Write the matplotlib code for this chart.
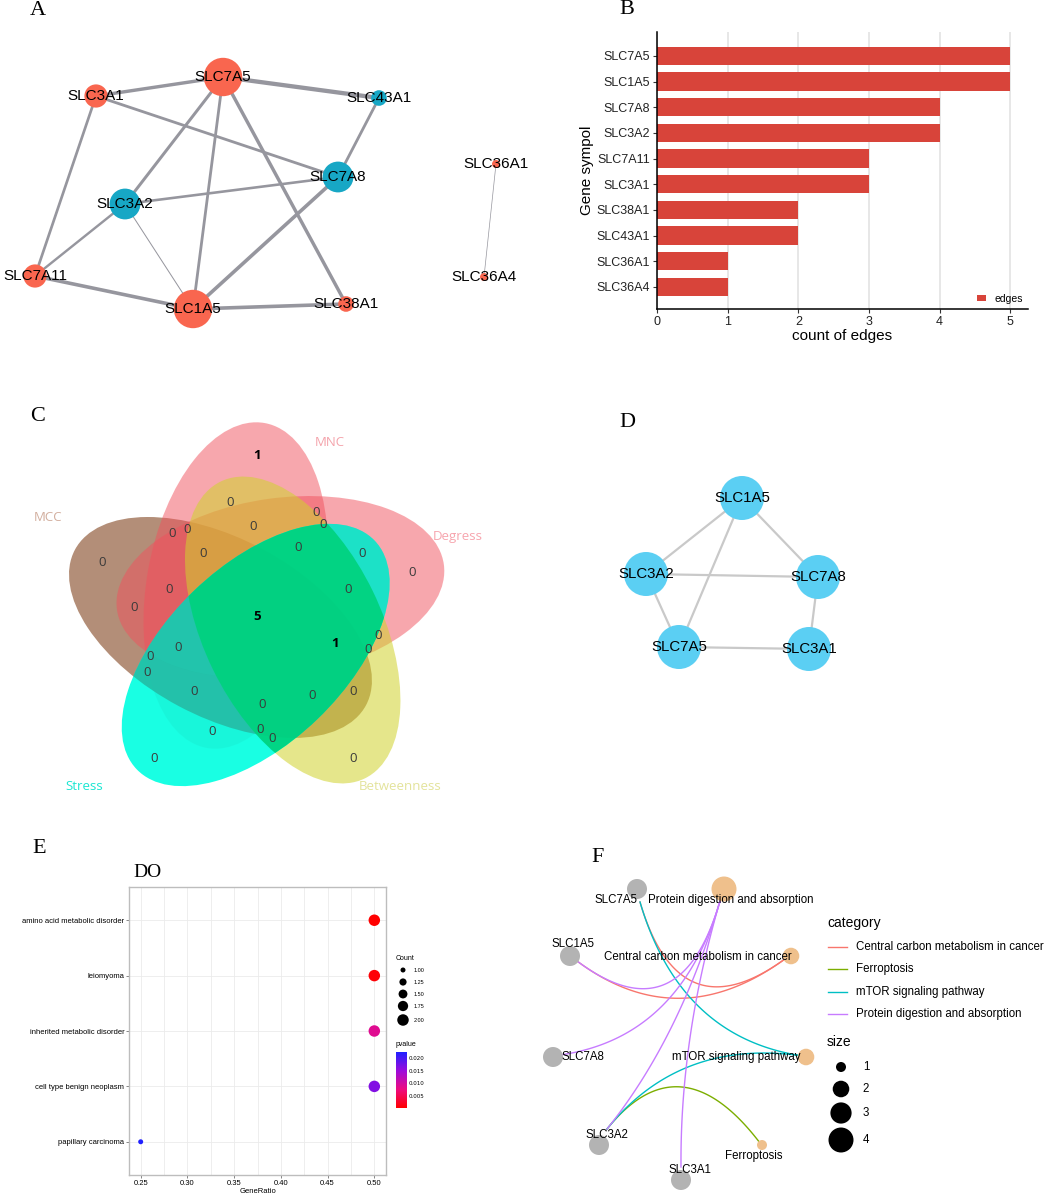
import numpy as np
import matplotlib
matplotlib.use("Agg")
import matplotlib.pyplot as plt
from matplotlib.patches import Circle, Ellipse
from matplotlib.colors import LinearSegmentedColormap, Normalize

W, H = 1045, 1195
SANS = "Liberation Sans"
SERIF = "Liberation Serif"

# ---------------- data ----------------
# A: PPI network (STRING-like), edge score drives line width
ppi_genes = ["SLC7A5", "SLC3A1", "SLC43A1", "SLC7A8", "SLC3A2",
             "SLC7A11", "SLC1A5", "SLC38A1", "SLC36A1", "SLC36A4"]
ppi_group = [1, 1, 2, 2, 2, 1, 1, 1, 1, 1]
ppi_edges = [("SLC7A5", "SLC43A1", 0.96), ("SLC7A5", "SLC3A1", 0.78),
             ("SLC7A5", "SLC3A2", 0.70), ("SLC7A5", "SLC1A5", 0.66),
             ("SLC7A5", "SLC38A1", 0.78), ("SLC3A1", "SLC7A8", 0.66),
             ("SLC3A1", "SLC7A11", 0.64), ("SLC43A1", "SLC7A8", 0.66),
             ("SLC7A8", "SLC3A2", 0.62), ("SLC7A8", "SLC1A5", 0.82),
             ("SLC3A2", "SLC7A11", 0.58), ("SLC3A2", "SLC1A5", 0.30),
             ("SLC7A11", "SLC1A5", 0.82), ("SLC1A5", "SLC38A1", 0.82),
             ("SLC36A1", "SLC36A4", 0.24)]

# B: count of edges
bar_genes = ["SLC7A5", "SLC1A5", "SLC7A8", "SLC3A2", "SLC7A11",
             "SLC3A1", "SLC38A1", "SLC43A1", "SLC36A1", "SLC36A4"]
edge_counts = [5, 5, 4, 4, 3, 3, 2, 2, 1, 1]

# C: five-set venn of hub algorithms
venn_sets = ["MCC", "MNC", "Degress", "Betweenness", "Stress"]
venn_counts = [1, 0, 0, 0, 0, 0, 0, 0, 0, 0, 0, 0, 0, 0, 0, 5,
               0, 1, 0, 0, 0, 0, 0, 0, 0, 0, 0, 0, 0, 0, 0]

# D: hub genes network
hub_genes = ["SLC1A5", "SLC3A2", "SLC7A8", "SLC7A5", "SLC3A1"]
hub_edges = [("SLC1A5", "SLC3A2"), ("SLC1A5", "SLC7A8"), ("SLC1A5", "SLC7A5"),
             ("SLC3A2", "SLC7A8"), ("SLC3A2", "SLC7A5"), ("SLC7A8", "SLC3A1"),
             ("SLC7A5", "SLC3A1")]

# E: DO enrichment
do_terms = ["amino acid metabolic disorder", "leiomyoma",
            "inherited metabolic disorder", "cell type benign neoplasm",
            "papillary carcinoma"]
do_ratio = [0.50, 0.50, 0.50, 0.50, 0.25]
do_count = [2, 2, 2, 2, 1]
do_pvalue = [0.0003, 0.0007, 0.0090, 0.0165, 0.0224]

# F: KEGG cnetplot
kegg_terms = ["Central carbon metabolism in cancer", "Ferroptosis",
              "mTOR signaling pathway", "Protein digestion and absorption"]
kegg_colors = ["#F8766D", "#7CAE00", "#00BFC4", "#C77CFF"]
kegg_links = [("SLC7A5", "Central carbon metabolism in cancer"),
              ("SLC1A5", "Central carbon metabolism in cancer"),
              ("SLC3A2", "Ferroptosis"),
              ("SLC7A5", "mTOR signaling pathway"),
              ("SLC3A2", "mTOR signaling pathway"),
              ("SLC1A5", "Protein digestion and absorption"),
              ("SLC7A8", "Protein digestion and absorption"),
              ("SLC3A2", "Protein digestion and absorption"),
              ("SLC3A1", "Protein digestion and absorption")]

# ---------------- layout (pixels) ----------------
pos_a = {"SLC7A5": (223, 77), "SLC3A1": (96, 96), "SLC43A1": (379, 98),
         "SLC7A8": (338, 177), "SLC3A2": (125, 204), "SLC7A11": (35, 276),
         "SLC1A5": (193, 309), "SLC38A1": (346, 304), "SLC36A1": (496, 164),
         "SLC36A4": (484, 277)}
pos_d = {"SLC1A5": (742, 498), "SLC3A2": (646, 574), "SLC7A8": (818, 577),
         "SLC7A5": (679, 647), "SLC3A1": (809, 649)}
venn_xy = [(257, 455), (230, 502), (316, 512), (323, 524), (172, 533),
           (187, 529), (253, 526), (102, 562), (203, 553), (298, 547),
           (362, 553), (412, 572), (169, 589), (348, 589), (134, 607),
           (257, 616), (378, 635), (335, 643), (368, 649), (178, 647),
           (150, 656), (147, 672), (194, 691), (353, 691), (312, 695),
           (262, 704), (212, 731), (260, 729), (272, 738), (154, 758),
           (353, 758)]
f_anchor = {"SLC7A5": (640, 902), "SLC1A5": (577, 961), "SLC7A8": (560, 1055),
            "SLC3A2": (607, 1129), "SLC3A1": (681, 1167),
            "Protein digestion and absorption": (720, 901),
            "Central carbon metabolism in cancer": (789, 956),
            "mTOR signaling pathway": (803, 1056), "Ferroptosis": (760, 1143)}
f_circle = {"SLC7A5": (637, 889), "SLC1A5": (570, 956), "SLC7A8": (553, 1057),
            "SLC3A2": (599, 1145), "SLC3A1": (681, 1180),
            "Protein digestion and absorption": (724, 889),
            "Central carbon metabolism in cancer": (791, 956),
            "mTOR signaling pathway": (806, 1057), "Ferroptosis": (762, 1145)}
f_label = {"SLC7A5": (616, 900), "SLC1A5": (573, 944), "SLC7A8": (583, 1057),
           "SLC3A2": (607, 1135), "SLC3A1": (690, 1170),
           "Protein digestion and absorption": (731, 900),
           "Central carbon metabolism in cancer": (698, 957),
           "mTOR signaling pathway": (736, 1057), "Ferroptosis": (754, 1156)}
f_center = (680, 1038)


def rect(x0, y0, x1, y1):
    return [x0 / W, 1 - y1 / H, (x1 - x0) / W, (y1 - y0) / H]


fig = plt.figure(figsize=(W / 100, H / 100), dpi=100)
canvas = fig.add_axes([0, 0, 1, 1])
canvas.set_xlim(0, W)
canvas.set_ylim(H, 0)
canvas.axis("off")

# panel letters
for lab, (x, y) in zip("ABCDEF", [(38, 10), (627, 9), (38, 416), (627, 422), (39, 848), (598, 857)]):
    canvas.text(x, y, lab, fontsize=16, family=SERIF, ha="center", va="center")

# ---------------- A ----------------
deg = {g: 0 for g in ppi_genes}
for g1, g2, s in ppi_edges:
    deg[g1] += 1
    deg[g2] += 1
    (x1, y1), (x2, y2) = pos_a[g1], pos_a[g2]
    canvas.plot([x1, x2], [y1, y2], color="#96969e", lw=(5 * s - 0.5) * 0.72,
                solid_capstyle="butt", zorder=2)
for g, grp in zip(ppi_genes, ppi_group):
    r = 4 + (deg[g] - 1) * 3.8
    canvas.add_patch(Circle(pos_a[g], r, color="#F9664F" if grp == 1 else "#17A7C5",
                            lw=0, zorder=3))
    canvas.text(*pos_a[g], g, fontsize=11, family=SANS, ha="center", va="center", zorder=4)

# ---------------- B ----------------
axB = fig.add_axes(rect(657, 32, 1028, 309))
yy = np.arange(len(bar_genes))[::-1]
axB.barh(yy, edge_counts, height=0.72, color="#D8443A", label="edges", zorder=2)
axB.set_xlim(0, 5.25)
axB.set_ylim(-0.86, 9.93)
axB.set_yticks(yy)
axB.set_yticklabels(bar_genes)
axB.set_xticks(range(6))
axB.grid(axis="x", color="#E3E3E3", lw=1.2, zorder=0)
axB.set_axisbelow(True)
for sp in ["top", "right"]:
    axB.spines[sp].set_visible(False)
for sp in ["left", "bottom"]:
    axB.spines[sp].set_linewidth(1.1)
axB.tick_params(labelsize=9, length=3, width=0.8, color="#333333", labelcolor="#222222", pad=2)
axB.set_xlabel("count of edges", fontsize=11, family=SANS, labelpad=1)
axB.set_ylabel("Gene sympol", fontsize=11, family=SANS, labelpad=2)
for t in axB.get_xticklabels() + axB.get_yticklabels():
    t.set_family(SANS)
axB.legend(loc="lower right", frameon=False, handlelength=0.9,
           handleheight=0.6, handletextpad=0.8, borderaxespad=0.1,
           prop={"family": SANS, "size": 7.5})

# ---------------- C ----------------
c0 = np.array([257.0, 617.0])
rot = {"Stress": 0, "MCC": -72, "MNC": -144, "Degress": 144, "Betweenness": 72}
fill = {"MCC": ("#A07256", 0.8), "Degress": ("#F1515D", 0.5), "MNC": ("#F1515D", 0.5),
        "Betweenness": ("#D0D32C", 0.55), "Stress": ("#00FFE0", 0.9)}


def venn_ellipse(name, **kw):
    ang = np.radians(268 + rot[name])
    cx, cy = c0[0] + 38 * np.cos(ang), c0[1] - 38 * np.sin(ang)
    return Ellipse((cx, cy), 330, 178, angle=-(43.9 + rot[name]), **kw)


for name in ["MCC", "Degress", "MNC", "Betweenness", "Stress"]:
    col, al = fill[name]
    canvas.add_patch(venn_ellipse(name, facecolor=col, alpha=al, lw=0, zorder=2))

# overlaps with Stress rendered darker, Stress x Betweenness green
stress_clip = venn_ellipse("Stress", transform=canvas.transData, facecolor="none", lw=0)
for name, col, al, z in [("MCC", "#2F9C88", 0.55, 2.3), ("Degress", "#22C8B0", 0.45, 2.4),
                         ("Betweenness", "#00D27E", 0.92, 2.5)]:
    p = venn_ellipse(name, facecolor=col, alpha=al, lw=0, zorder=z)
    canvas.add_patch(p)
    p.set_clip_path(stress_clip)

for (x, y), n in zip(venn_xy, venn_counts):
    canvas.text(x, y, str(n), fontsize=9.5, family="Open Sans", ha="center", va="center",
                color="#000000" if n else "#3a3a3a", fontweight="bold" if n else "normal",
                zorder=5)
venn_lab = {"MNC": ((330, 442), "#F4A3AB"), "Degress": ((458, 536), "#F7A5AE"),
            "MCC": ((48, 517), "#D2AE9E"), "Stress": ((84, 786), "#1BE6D2"),
            "Betweenness": ((400, 786), "#E3E39B")}
for name in venn_sets:
    (x, y), col = venn_lab[name]
    canvas.text(x, y, name, fontsize=9.5, family="Open Sans", color=col,
                ha="center", va="center", zorder=5)

# ---------------- D ----------------
for g1, g2 in hub_edges:
    (x1, y1), (x2, y2) = pos_d[g1], pos_d[g2]
    canvas.plot([x1, x2], [y1, y2], color="#C9C9C9", lw=1.6, zorder=2)
for g in hub_genes:
    canvas.add_patch(Circle(pos_d[g], 22, color="#5BCFF3", lw=0, zorder=3))
    canvas.text(*pos_d[g], g, fontsize=10.8, family=SANS, ha="center", va="center", zorder=4)

# ---------------- E ----------------
axE = fig.add_axes(rect(129, 887, 386, 1175))
ye = np.arange(len(do_terms))[::-1]
cmap_p = LinearSegmentedColormap.from_list("p", ["#FF0000", "#EE0B80", "#9B0BDC", "#2020FF"])
norm_p = Normalize(vmin=min(do_pvalue), vmax=max(do_pvalue))


def dot_size(c):
    return (np.sqrt(25 + 107 * (np.asarray(c, float) - 1)) * 0.72) ** 2


sc = axE.scatter(do_ratio, ye, s=dot_size(do_count), c=do_pvalue, cmap=cmap_p,
                 norm=norm_p, lw=0, zorder=3)
axE.set_xlim(0.2375, 0.5125)
axE.set_ylim(-0.6, 4.6)
axE.set_yticks(ye)
axE.set_yticklabels(do_terms)
axE.set_xticks([0.25, 0.30, 0.35, 0.40, 0.45, 0.50])
axE.set_xticklabels(["0.25", "0.30", "0.35", "0.40", "0.45", "0.50"])
axE.set_xticks(np.arange(0.275, 0.5, 0.05), minor=True)
axE.grid(which="both", color="#EBEBEB", lw=0.6, zorder=0)
axE.set_axisbelow(True)
for sp in axE.spines.values():
    sp.set_color("#BDBDBD")
    sp.set_linewidth(1.0)
axE.tick_params(labelsize=5.5, length=2, width=0.5, color="#555555", pad=1.5)
axE.tick_params(which="minor", length=0)
for t in axE.get_xticklabels() + axE.get_yticklabels():
    t.set_family(SANS)
axE.set_xlabel("GeneRatio", fontsize=5.5, family=SANS, labelpad=1)
canvas.text(133, 872, "DO", fontsize=14, family=SERIF, va="center")

caxE = fig.add_axes(rect(396, 1052, 407, 1108))
cb = fig.colorbar(sc, cax=caxE)
cb.outline.set_visible(False)
cb.set_ticks([0.005, 0.010, 0.015, 0.020])
cb.set_ticklabels(["0.005", "0.010", "0.015", "0.020"])
cb.ax.tick_params(labelsize=4, length=0, pad=1.5)
canvas.text(396, 1045, "pvalue", fontsize=5, family=SANS, va="center")
canvas.text(396, 958, "Count", fontsize=5, family=SANS, va="center")
leg_counts = [1.00, 1.25, 1.50, 1.75, 2.00]
leg_y = [970, 982, 994, 1006, 1020]
canvas.scatter([403] * 5, leg_y, s=dot_size(leg_counts), color="black", lw=0)
for c, y in zip(leg_counts, leg_y):
    canvas.text(414, y, f"{c:.2f}", fontsize=4, family=SANS, va="center")

# ---------------- F ----------------
col_of = dict(zip(kegg_terms, kegg_colors))
t = np.linspace(0, 1, 80)[:, None]
C = np.array(f_center)
for g, term in kegg_links:
    p0, p2 = np.array(f_anchor[g]), np.array(f_anchor[term])
    pts = (1 - t) ** 2 * p0 + 2 * (1 - t) * t * C + t ** 2 * p2
    canvas.plot(pts[:, 0], pts[:, 1], color=col_of[term], lw=1.0, zorder=2)
term_size = {k: sum(1 for _, tt in kegg_links if tt == k) for k in kegg_terms}


def size_r(n):
    return np.sqrt(-18.7 + 43.7 * n)


for g in ["SLC7A5", "SLC1A5", "SLC7A8", "SLC3A2", "SLC3A1"]:
    canvas.add_patch(Circle(f_circle[g], 10, color="#B3B3B3", lw=0, zorder=3))
for k in kegg_terms:
    canvas.add_patch(Circle(f_circle[k], size_r(term_size[k]), color="#EFC08C", lw=0, zorder=3))
for k, (x, y) in f_label.items():
    canvas.text(x, y, k, fontsize=8.3, family=SANS, ha="center", va="center", zorder=4)

canvas.text(827, 923, "category", fontsize=10, family=SANS, va="center")
for k, y in zip(kegg_terms, [947, 969, 992, 1014]):
    canvas.plot([828, 847], [y, y], color=col_of[k], lw=1.0)
    canvas.text(856, y, k, fontsize=8.3, family=SANS, va="center")
canvas.text(827, 1042, "size", fontsize=10, family=SANS, va="center")
for n, y in zip([1, 2, 3, 4], [1067, 1089, 1113, 1140]):
    canvas.add_patch(Circle((841, y), size_r(n), color="black", lw=0))
    canvas.text(866, y, str(n), fontsize=8.3, family=SANS, ha="center", va="center")

fig.savefig("out.png", dpi=100)
